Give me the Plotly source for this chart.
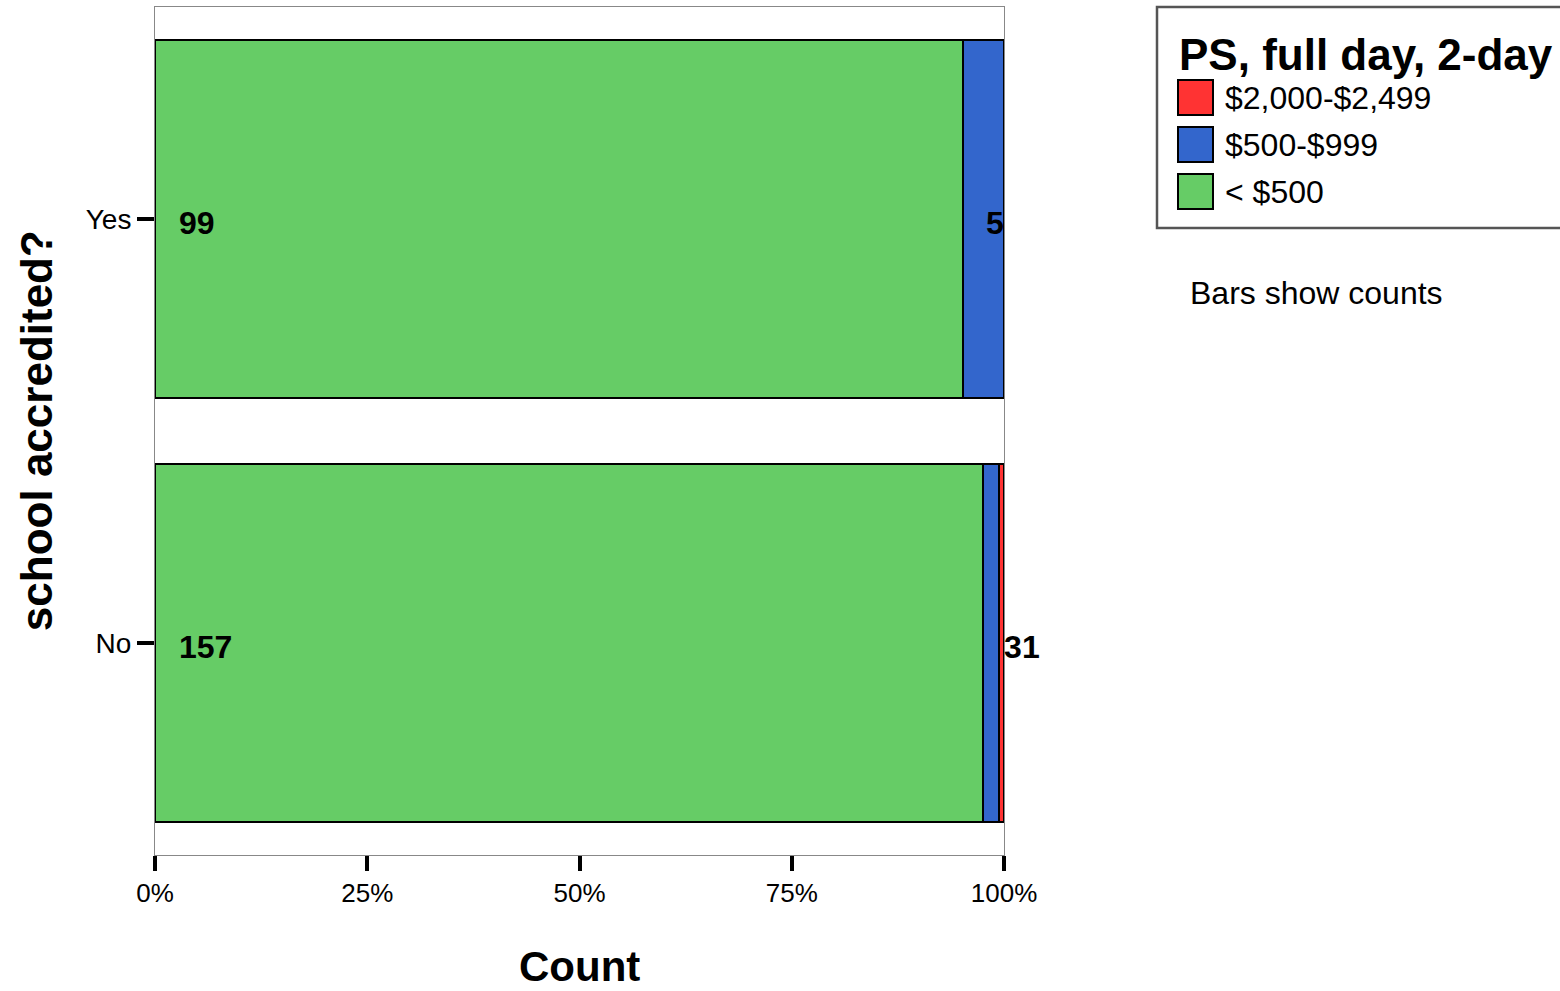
import plotly.graph_objects as go
import numpy as np

categories = ["No", "Yes"]
series_names = ["< $500", "$500-$999", "$2,000-$2,499"]
counts_lt500 = [157, 99]
counts_500_999 = [3, 5]
counts_2000_2499 = [1, 0]
x_tick_vals = [0, 25, 50, 75, 100]
x_tick_text = ["0%", "25%", "50%", "75%", "100%"]

colors = {"< $500": "#66CC66", "$500-$999": "#3366CC", "$2,000-$2,499": "#FF3333"}
series = [counts_lt500, counts_500_999, counts_2000_2499]

FONT = "Liberation Sans, Arial, sans-serif"

fig = go.Figure()
for name, vals in zip(series_names, series):
    fig.add_trace(go.Bar(
        y=categories, x=vals, orientation="h", name=name,
        marker=dict(color=colors[name], line=dict(color="black", width=2)),
        width=0.845, showlegend=False, hoverinfo="x+y+name",
    ))

fig.update_layout(
    barmode="stack", barnorm="percent",
    width=1560, height=991,
    margin=dict(l=155, r=556, t=7, b=136),
    paper_bgcolor="white", plot_bgcolor="white",
    font=dict(family=FONT, color="black"),
    xaxis=dict(range=[0, 100], tickvals=x_tick_vals, ticktext=x_tick_text,
               ticks="outside", ticklen=15, tickwidth=4, tickcolor="black",
               showline=True, linecolor="#888888", linewidth=1, mirror=True,
               showgrid=False, zeroline=False, tickfont=dict(size=26, family=FONT)),
    yaxis=dict(range=[-0.5, 1.5], categoryorder="array", categoryarray=categories,
               ticks="outside", ticklen=17, tickwidth=4, tickcolor="black",
               showline=True, linecolor="#888888", linewidth=1, mirror=True,
               showgrid=False, zeroline=False, tickfont=dict(size=28, family=FONT)),
)

# value labels
tot = np.array(counts_lt500) + np.array(counts_500_999) + np.array(counts_2000_2499)
p1 = np.array(counts_lt500) / tot * 100
p2 = p1 + np.array(counts_500_999) / tot * 100
p3 = p2 + np.array(counts_2000_2499) / tot * 100
lab_font = dict(size=32, family=FONT, color="black")
for i, cat in enumerate(categories):
    fig.add_annotation(x=0, y=cat, text=f"<b>{counts_lt500[i]}</b>", showarrow=False,
                       xanchor="left", xshift=22, yshift=-4, font=lab_font)
# Yes: blue label at end of segment, inside
fig.add_annotation(x=p2[1], y="Yes", text=f"<b>{counts_500_999[1]}</b>", showarrow=False,
                   xanchor="right", xshift=2, yshift=-4, font=lab_font)
# No: blue and red labels just past bar end
fig.add_annotation(x=p2[0], y="No", text=f"<b>{counts_500_999[0]}</b>", showarrow=False,
                   xanchor="left", xshift=4, yshift=-4, font=lab_font, borderpad=0)
fig.add_annotation(x=p3[0], y="No", text=f"<b>{counts_2000_2499[0]}</b>", showarrow=False,
                   xanchor="left", xshift=17, yshift=-4, font=lab_font, borderpad=0)

# axis titles
fig.add_annotation(xref="paper", yref="paper", x=0.5, y=-0.132, yanchor="middle",
                   text="<b>Count</b>", showarrow=False, font=dict(size=42, family=FONT))
fig.add_annotation(xref="paper", yref="paper", x=-0.14, y=0.5, xanchor="center",
                   textangle=-90, text="<b>school accredited?</b>", showarrow=False,
                   font=dict(size=44, family=FONT))

# manual legend (paper coords via pixel conversion)
pw, ph = 1560 - 155 - 556, 991 - 7 - 136
def px(x): return (x - 155) / pw
def py(y): return 1 - (y - 7) / ph

fig.add_shape(type="rect", xref="paper", yref="paper", x0=px(1157), x1=px(1562),
              y0=py(228), y1=py(7), line=dict(color="#555555", width=2.5), fillcolor="white")
fig.add_annotation(xref="paper", yref="paper", x=px(1177), y=py(54), xanchor="left",
                   yanchor="middle", text="<b>PS, full day, 2-day</b>", showarrow=False,
                   font=dict(size=44, family=FONT))
legend_order = ["$2,000-$2,499", "$500-$999", "< $500"]
for k, name in enumerate(legend_order):
    yc = 98 + k * 47
    fig.add_shape(type="rect", xref="paper", yref="paper", x0=px(1178), x1=px(1213),
                  y0=py(yc + 17), y1=py(yc - 18), line=dict(color="black", width=2),
                  fillcolor=colors[name])
    fig.add_annotation(xref="paper", yref="paper", x=px(1223), y=py(yc), xanchor="left",
                       yanchor="middle", text=name, showarrow=False,
                       font=dict(size=32, family=FONT))
fig.add_annotation(xref="paper", yref="paper", x=px(1188), y=py(293), xanchor="left",
                   yanchor="middle", text="Bars show counts", showarrow=False,
                   font=dict(size=32, family=FONT))

fig.write_html("out.html", config={"displayModeBar": False},
               post_script="document.body.style.margin='0';")
